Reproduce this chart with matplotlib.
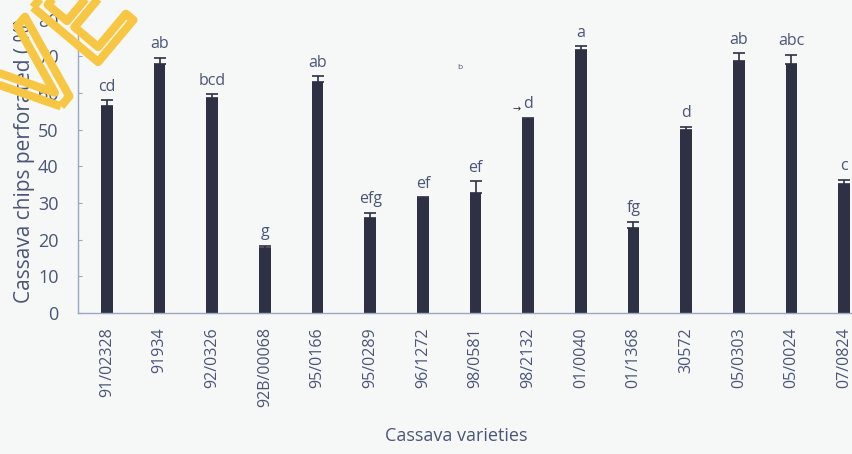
import matplotlib.pyplot as plt
import matplotlib.patheffects as pe
import numpy as np

varieties = ['91/02328', '91934', '92/0326', '92B/00068', '95/0166', '95/0289',
             '96/1272', '98/0581', '98/2132', '01/0040', '01/1368', '30572',
             '05/0303', '05/0024', '07/0824']
perforated = [56.4, 67.8, 58.7, 17.7, 63.0, 25.8, 31.3, 32.6, 53.0, 71.8,
              23.1, 49.9, 68.7, 68.0, 35.3]
err = [1.6, 1.8, 1.0, 0.6, 1.5, 1.6, 0.3, 3.3, 0.2, 0.9, 1.7, 0.9, 2.1, 2.4, 1.1]
letters = ['cd', 'ab', 'bcd', 'g', 'ab', 'efg', 'ef', 'ef', 'd', 'a', 'fg', 'd',
           'ab', 'abc', 'c']

text_col = '#4a5676'
bar_col = '#2e3043'
bg = '#f6f7f7'
plt.rcParams['font.family'] = ['Open Sans', 'DejaVu Sans']

fig = plt.figure(figsize=(8.52, 4.54), dpi=100, facecolor=bg)
ax = fig.add_axes([0.0915, 0.3106, 0.9085, 0.6462])
ax.set_facecolor(bg)

x = np.arange(len(varieties))
ax.bar(x, perforated, width=0.22, color=bar_col, zorder=2)
ax.errorbar(x, perforated, yerr=[np.zeros(len(err)), err], fmt='none',
            ecolor=bar_col, elinewidth=1.2, capsize=4, capthick=1.2, zorder=3)

for xi, v, e, lab in zip(x, perforated, err, letters):
    ax.annotate(lab, (xi, v + e), xytext=(0, 4), textcoords='offset points',
                ha='center', va='bottom', fontsize=11.5, color=text_col)

# scan artifacts
ax.text(7.78, 53.8, '\u2192', ha='center', va='bottom', fontsize=7, color=bar_col)
ax.text(6.65, 66.5, 'b', fontsize=6, color=text_col)

ax.set_xlim(-0.55, 14.15)
ax.set_ylim(0, 80)
ax.set_yticks(range(0, 81, 10))
ax.set_xticks(x)
ax.set_xticklabels(varieties, rotation=90, fontsize=11.5, color=text_col)
ax.tick_params(axis='y', labelsize=13, labelcolor=text_col, color='#9aa8c0',
               length=3, direction='in', pad=14)
ax.tick_params(axis='x', length=0, pad=10)

for s in ['top', 'right']:
    ax.spines[s].set_visible(False)
for s in ['left', 'bottom']:
    ax.spines[s].set_color('#9aa8c0')
    ax.spines[s].set_linewidth(1.0)

ax.set_ylabel('Cassava chips perforated ( %)', fontsize=15, color=text_col)
ax.yaxis.set_label_coords(-0.056, 0.52)
fig.text(0.535, 0.02, 'Cassava varieties', ha='center', va='bottom',
         fontsize=13, color=text_col)

# yellow watermark in the corner (outlined letters)
fig.text(0.075, 0.885, 'VE', fontsize=84, color=(0, 0, 0, 0), rotation=50,
         ha='center', va='center', zorder=10, family='DejaVu Sans',
         path_effects=[pe.withStroke(linewidth=6, foreground='#f7c744')])

fig.savefig('out.png', dpi=100, facecolor=fig.get_facecolor())
